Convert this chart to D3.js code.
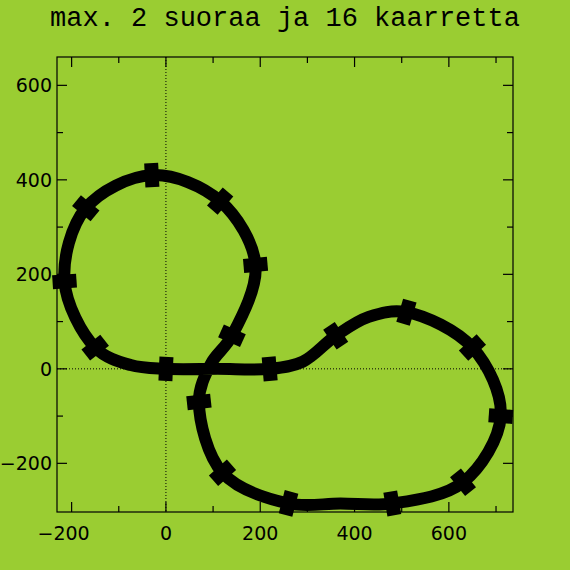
<!DOCTYPE html>
<html><head><meta charset="utf-8">
<script src="https://cdn.jsdelivr.net/npm/d3@7"></script>
<style>body{margin:0;background:#9acd32}</style>
</head><body><div id="root"></div>
<script>
// track points; mark = 1 where a sleeper marker sits
const trackX = [0, 110, 220, 290, 360, 430, 510, 650, 710, 630, 480, 370, 260, 120, 70, 95, 140, 190, 115, -30, -170, -215, -150, -75];
const trackY = [0, 0, 0, 15, 70, 110, 120, 45, -100, -240, -285, -285, -285, -220, -70, 10, 70, 220, 355, 410, 340, 185, 45, 8];
const mark   = [1, 0, 1, 0, 1, 0, 1, 1, 1, 1, 1, 0, 1, 1, 1, 0, 1, 1, 1, 1, 1, 1, 1, 0];
const xTicks = [-200, 0, 200, 400, 600];
const yTicks = [-200, 0, 200, 400, 600];
const title = 'max. 2 suoraa ja 16 kaarretta';

const w = 570, h = 570;
const x = d3.scaleLinear().domain([-231, 736]).range([57, 513]);
const y = d3.scaleLinear().domain([-303, 660]).range([512, 57]);

const svg = d3.select('#root').append('svg').attr('width', w).attr('height', h);
svg.append('rect').attr('width', w).attr('height', h).attr('fill', '#9acd32');

svg.append('text').text(title)
  .attr('x', 285).attr('y', 26)
  .attr('text-anchor', 'middle')
  .attr('font-family', 'Liberation Mono').attr('font-size', '27px');

// zero lines
svg.append('line').attr('x1', x(0)).attr('x2', x(0)).attr('y1', 57).attr('y2', 512)
  .attr('stroke', '#000').attr('stroke-dasharray', '1,2');
svg.append('line').attr('x1', 57).attr('x2', 513).attr('y1', y(0)).attr('y2', y(0))
  .attr('stroke', '#000').attr('stroke-dasharray', '1,2');

// frame + ticks inside
const minor = d3.range(-200, 701, 100);
const g = svg.append('g').attr('stroke', '#000').attr('stroke-width', 1.2);
g.append('rect').attr('x', 57).attr('y', 57).attr('width', 456).attr('height', 455).attr('fill', 'none');
minor.forEach(v => {
  const len = v % 200 === 0 ? 10 : 6;
  if (x(v) > 57 && x(v) < 513) {
    g.append('line').attr('x1', x(v)).attr('x2', x(v)).attr('y1', 512).attr('y2', 512 - len);
    g.append('line').attr('x1', x(v)).attr('x2', x(v)).attr('y1', 57).attr('y2', 57 + len);
  }
  if (y(v) > 57 && y(v) < 512) {
    g.append('line').attr('y1', y(v)).attr('y2', y(v)).attr('x1', 57).attr('x2', 57 + len);
    g.append('line').attr('y1', y(v)).attr('y2', y(v)).attr('x1', 513).attr('x2', 513 - len);
  }
});
svg.selectAll('.xl').data(xTicks).enter().append('text')
  .text(d => d < 0 ? '\u2212' + (-d) : d)
  .attr('x', d => x(d) - (d < 0 ? 8 : 0)).attr('y', 540)
  .attr('text-anchor', 'middle')
  .attr('font-family', 'DejaVu Sans').attr('font-size', '19px');
svg.selectAll('.yl').data(yTicks).enter().append('text')
  .text(d => d < 0 ? '\u2212' + (-d) : d)
  .attr('x', 52).attr('y', d => y(d) + 7)
  .attr('text-anchor', 'end')
  .attr('font-family', 'DejaVu Sans').attr('font-size', '19px');

// track
const pts = trackX.map((d, i) => [x(d), y(trackY[i])]);
svg.append('path')
  .attr('d', d3.line().curve(d3.curveCatmullRomClosed.alpha(0.5))(pts))
  .attr('fill', 'none').attr('stroke', '#000').attr('stroke-width', 12);

// markers perpendicular to the track
const n = pts.length;
pts.forEach((p, i) => {
  if (!mark[i]) return;
  const a = pts[(i - 1 + n) % n], b = pts[(i + 1) % n];
  const ang = Math.atan2(b[1] - a[1], b[0] - a[0]) * 180 / Math.PI;
  svg.append('rect')
    .attr('x', -7).attr('y', -12).attr('width', 14).attr('height', 24)
    .attr('fill', '#000')
    .attr('transform', `translate(${p[0]},${p[1]}) rotate(${ang})`);
});
</script>
</body></html>
